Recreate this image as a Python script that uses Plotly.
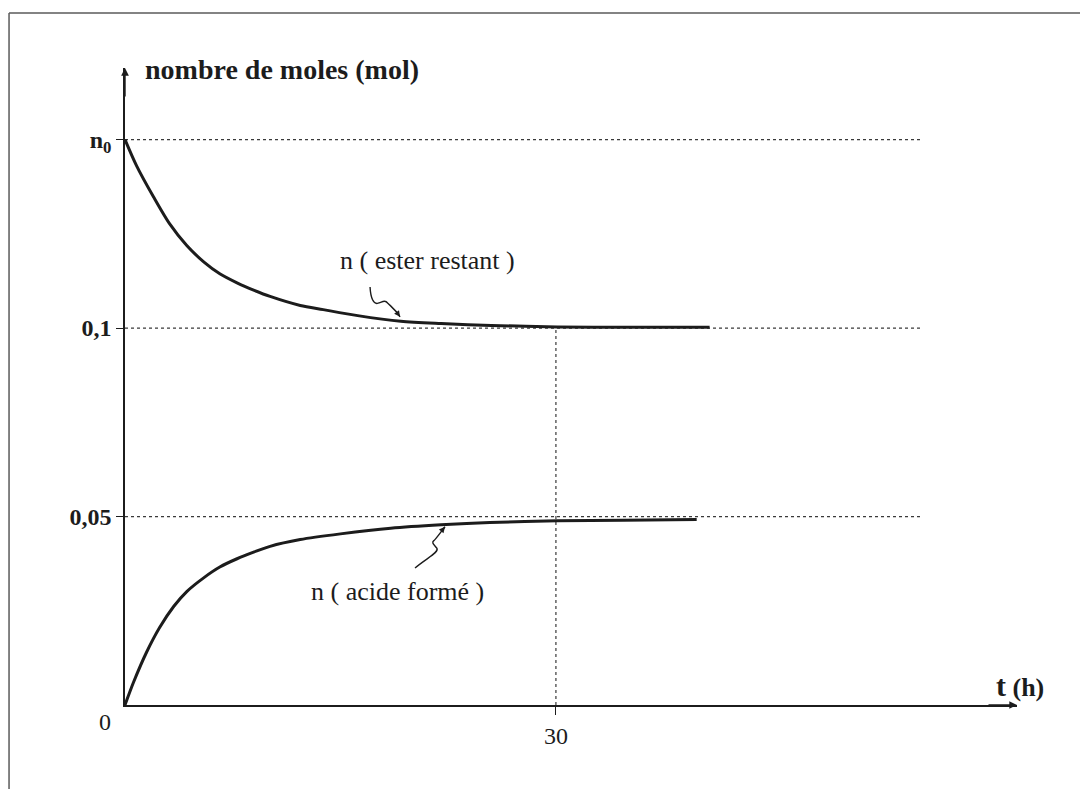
import plotly.graph_objects as go

# t en heures, n en mol
t_ester = [0, 0.8, 2.0, 3.1, 4.3, 5.5, 6.6, 7.8, 9.0, 10.1, 12.2, 13.8, 16.2, 19.2, 22.0, 25.5, 30.1, 35.0, 40.7]
n_ester = [0.150, 0.1431, 0.1347, 0.1277, 0.1219, 0.1175, 0.1144, 0.1120, 0.1100, 0.1084, 0.1060, 0.1049,
           0.1033, 0.1018, 0.1012, 0.1007, 0.1003, 0.1002, 0.1002]
t_acide = [0, 0.6, 1.5, 2.4, 3.4, 4.3, 5.5, 6.6, 7.8, 9.0, 10.1, 12.2, 15.0, 18.5, 22.0, 25.4, 30.1, 34.7, 39.8]
n_acide = [0, 0.0061, 0.0140, 0.0205, 0.0262, 0.0301, 0.0338, 0.0366, 0.0388, 0.0406, 0.0421, 0.0439,
           0.0454, 0.0469, 0.0478, 0.0484, 0.0489, 0.0490, 0.0492]

niveaux = [0.15, 0.1, 0.05]
niveaux_texte = ["<b>n<sub>0</sub></b>", "<b>0,1</b>", "<b>0,05</b>"]
fin_pointilles = 55.4
t_repere = 30
t_max = 62.1
n_max = 0.169

SERIF = "Liberation Serif"
INK = "#1c1c1c"
DOTS = "#3a3a3a"

fig = go.Figure()

for niveau in niveaux:
    fig.add_trace(go.Scatter(x=[0, fin_pointilles], y=[niveau, niveau], mode="lines",
                             line={"color": DOTS, "width": 1.2, "dash": "dot"}, hoverinfo="skip"))
fig.add_trace(go.Scatter(x=[t_repere, t_repere], y=[0, niveaux[1]], mode="lines",
                         line={"color": DOTS, "width": 1.2, "dash": "dot"}, hoverinfo="skip"))

fig.add_trace(go.Scatter(x=t_ester, y=n_ester, mode="lines", name="n (ester restant)",
                         line={"color": INK, "width": 3, "shape": "spline", "smoothing": 0.8}))
fig.add_trace(go.Scatter(x=t_acide, y=n_acide, mode="lines", name="n (acide formé)",
                         line={"color": INK, "width": 3, "shape": "spline", "smoothing": 0.8}))

# petites flèches ondulées vers les courbes
squiggles = [
    "M 17.06,0.1109 C 17.1,0.1080 17.3,0.1062 17.62,0.1066 C 17.95,0.1070 18.1,0.1075 18.3,0.1066 "
    "C 18.5,0.1058 18.8,0.1050 19.15,0.1030",
    "M 20.19,0.03635 C 21.0,0.0390 21.9,0.0405 21.71,0.0416 C 21.55,0.0425 21.3,0.0430 21.5,0.0436 "
    "C 21.7,0.0443 22.0,0.0460 22.28,0.0473",
]
for path in squiggles:
    fig.add_shape(type="path", path=path, xref="x", yref="y", line={"color": INK, "width": 1.4})

# cadre de la page scannée
frame = {"color": "#5a5a5a", "width": 1.5}
fig.add_shape(type="line", xref="paper", yref="paper", x0=-0.1300, x1=-0.1300, y0=1.0863, y1=-0.2, line=frame)
fig.add_shape(type="line", xref="paper", yref="paper", x0=-0.1300, x1=1.0774, y0=1.0863, y1=1.0863, line=frame)
fig.add_shape(type="line", xref="paper", yref="paper", x0=1.0774, x1=1.0774, y0=1.0863, y1=-0.2, line=frame)

arrow = {"showarrow": True, "arrowhead": 2, "arrowsize": 1.1, "arrowwidth": 1.4, "arrowcolor": INK, "text": ""}
annotations = [
    dict(x=t_max, y=0, ax=-30, ay=0, **arrow),
    dict(x=0, y=n_max, ax=0, ay=30, **arrow),
    dict(x=19.15, y=0.1030, ax=-5, ay=-7, **{**arrow, "arrowwidth": 1.2, "arrowsize": 1.0}),
    dict(x=22.28, y=0.0473, ax=-5, ay=6, **{**arrow, "arrowwidth": 1.2, "arrowsize": 1.0}),
    dict(x=0.0202, y=0.997, xref="paper", yref="paper", xanchor="left", yanchor="middle", showarrow=False,
         text="<b>nombre de moles (mol)</b>", font={"family": SERIF, "size": 28, "color": INK}),
    dict(x=1.0034, y=0.030, xref="paper", yref="paper", xanchor="center", yanchor="middle", showarrow=False,
         text="<b><span style='font-size:30px'>t</span> (h)</b>", font={"family": SERIF, "size": 26, "color": INK}),
    dict(x=21.03, y=0.1178, showarrow=False, text="n ( ester restant )",
         font={"family": SERIF, "size": 26, "color": INK}),
    dict(x=19.0, y=0.0300, showarrow=False, text="n ( acide formé )",
         font={"family": SERIF, "size": 26, "color": INK}),
    dict(x=0, y=0, xanchor="right", yanchor="top", xshift=-12, yshift=-2, showarrow=False, text="0",
         font={"family": SERIF, "size": 24, "color": INK}),
]

# la page ajoute 8 px de marge au corps : la figure est réduite et décalée d'autant
fig.update_layout(
    width=1080, height=781,
    margin={"l": 117, "r": 71, "t": 60, "b": 84},
    paper_bgcolor="white", plot_bgcolor="white",
    showlegend=False,
    annotations=annotations,
    xaxis={"range": [0, t_max], "showgrid": False, "zeroline": False, "showline": True,
           "linecolor": INK, "linewidth": 1.5, "tickvals": [t_repere], "ticktext": [str(t_repere)],
           "ticks": "outside", "ticklen": 8, "tickcolor": INK, "tickwidth": 1.3,
           "tickfont": {"family": SERIF, "size": 24, "color": INK}, "automargin": False, "fixedrange": True},
    yaxis={"range": [0, n_max], "showgrid": False, "zeroline": False, "showline": True,
           "linecolor": INK, "linewidth": 1.5, "tickvals": niveaux, "ticktext": niveaux_texte,
           "ticks": "outside", "ticklen": 7, "tickcolor": INK, "tickwidth": 1.3,
           "tickfont": {"family": SERIF, "size": 24, "color": INK}, "automargin": False, "fixedrange": True},
)

fig.write_html("out.html")
